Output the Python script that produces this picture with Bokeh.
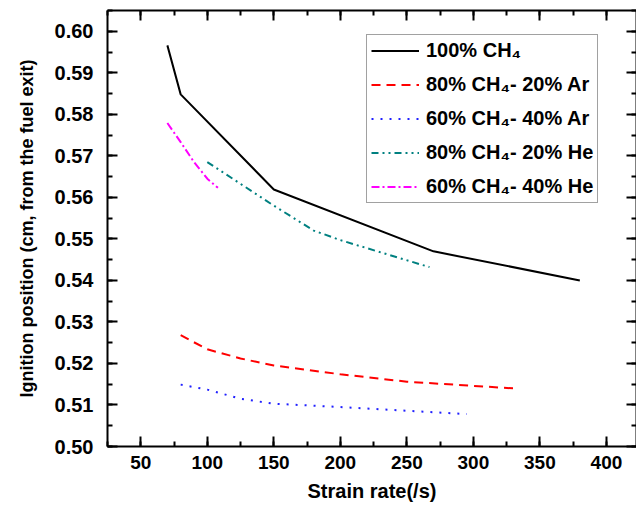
from bokeh.plotting import figure
from bokeh.models import (LinearAxis, SingleIntervalTicker, Legend, LegendItem,
                          Range1d, CustomJSTickFormatter, NumeralTickFormatter)
from bokeh.embed import file_html
from bokeh.resources import INLINE

# ---- data ----
strain_ch4 = [70, 80, 150, 270, 380]
pos_ch4 = [0.5966, 0.5848, 0.5619, 0.5470, 0.5400]

strain_ar20 = [80, 100, 125, 150, 200, 250, 300, 330]
pos_ar20 = [0.5268, 0.5234, 0.5212, 0.5195, 0.5174, 0.5156, 0.5146, 0.5140]

strain_ar40 = [80, 100, 125, 150, 200, 250, 295]
pos_ar40 = [0.5149, 0.5137, 0.5115, 0.5103, 0.5095, 0.5086, 0.5078]

strain_he20 = [100, 150, 180, 200, 267]
pos_he20 = [0.5685, 0.5580, 0.5520, 0.5497, 0.5432]

strain_he40 = [70, 80, 90, 100, 108]
pos_he40 = [0.5779, 0.5733, 0.5685, 0.5645, 0.5623]

labels = ["100% CH\u2084", "80% CH\u2084- 20% Ar", "60% CH\u2084- 40% Ar",
          "80% CH\u2084- 20% He", "60% CH\u2084- 40% He"]

FONT = "Liberation Sans"

p = figure(width=636, height=514, output_backend="svg", toolbar_location=None,
           x_range=Range1d(25, 422.6), y_range=Range1d(0.5, 0.605),
           min_border_left=107, min_border_right=0, min_border_top=10,
           min_border_bottom=68)
p.grid.visible = False
p.outline_line_color = None
p.background_fill_color = "white"
p.border_fill_color = "white"

r1 = p.line(strain_ch4, pos_ch4, line_color="black", line_width=2)
r2 = p.line(strain_ar20, pos_ar20, line_color="#ff0000", line_width=2, line_dash="9 6")
r3 = p.line(strain_ar40, pos_ar40, line_color="#2020ff", line_width=2, line_dash="2 7")
r4 = p.line(strain_he20, pos_he20, line_color="#008080", line_width=2, line_dash="7 4 2 4 2 4")
r5 = p.line(strain_he40, pos_he40, line_color="#ff00ff", line_width=2, line_dash="8 3 2 3")

xt = SingleIntervalTicker(interval=50, num_minor_ticks=2)
yt = SingleIntervalTicker(interval=0.01, num_minor_ticks=2)


def style_axis(ax):
    ax.axis_line_width = 2
    ax.axis_line_color = "black"
    ax.major_tick_in = 10
    ax.major_tick_out = 0
    ax.minor_tick_in = 5
    ax.minor_tick_out = 0
    ax.major_tick_line_width = 2
    ax.minor_tick_line_width = 2
    ax.major_label_text_font = FONT
    ax.major_label_text_font_style = "bold"
    ax.major_label_text_font_size = "19px"
    ax.major_label_text_color = "black"
    ax.axis_label_text_font = FONT
    ax.axis_label_text_font_style = "bold"
    ax.axis_label_text_font_size = "20px"
    ax.axis_label_text_color = "black"


xa = p.xaxis[0]
xa.ticker = xt
xa.axis_label = "Strain rate(/s)"
style_axis(xa)
xa.major_label_standoff = 9
xa.axis_label_standoff = 8

ya = p.yaxis[0]
ya.ticker = yt
ya.formatter = NumeralTickFormatter(format="0.00")
ya.axis_label = "Ignition position (cm, from the fuel exit)"
style_axis(ya)
ya.major_label_text_font_size = "20px"
ya.axis_label_text_font_size = "18px"
ya.major_label_standoff = 14
ya.axis_label_standoff = 15

blank = CustomJSTickFormatter(code="return ''")
top = LinearAxis(ticker=xt, formatter=blank)
style_axis(top)
top.major_label_standoff = 0
top.major_label_text_font_size = "0px"
p.add_layout(top, "above")
right = LinearAxis(ticker=yt, formatter=blank)
style_axis(right)
right.major_label_standoff = 0
right.major_label_text_font_size = "0px"
p.add_layout(right, "right")

legend = Legend(items=[LegendItem(label=l, renderers=[r]) for l, r in
                       zip(labels, [r1, r2, r3, r4, r5])],
                location=(259, 243), margin=0, padding=4, spacing=11,
                glyph_width=48, glyph_height=23, label_height=23,
                label_standoff=7,
                label_text_font=FONT, label_text_font_style="bold",
                label_text_font_size="20px", label_text_color="black",
                border_line_color="#444444", border_line_width=1,
                background_fill_color="white", background_fill_alpha=1)
p.add_layout(legend, "center")

open("out.html", "w").write(file_html(p, INLINE))
